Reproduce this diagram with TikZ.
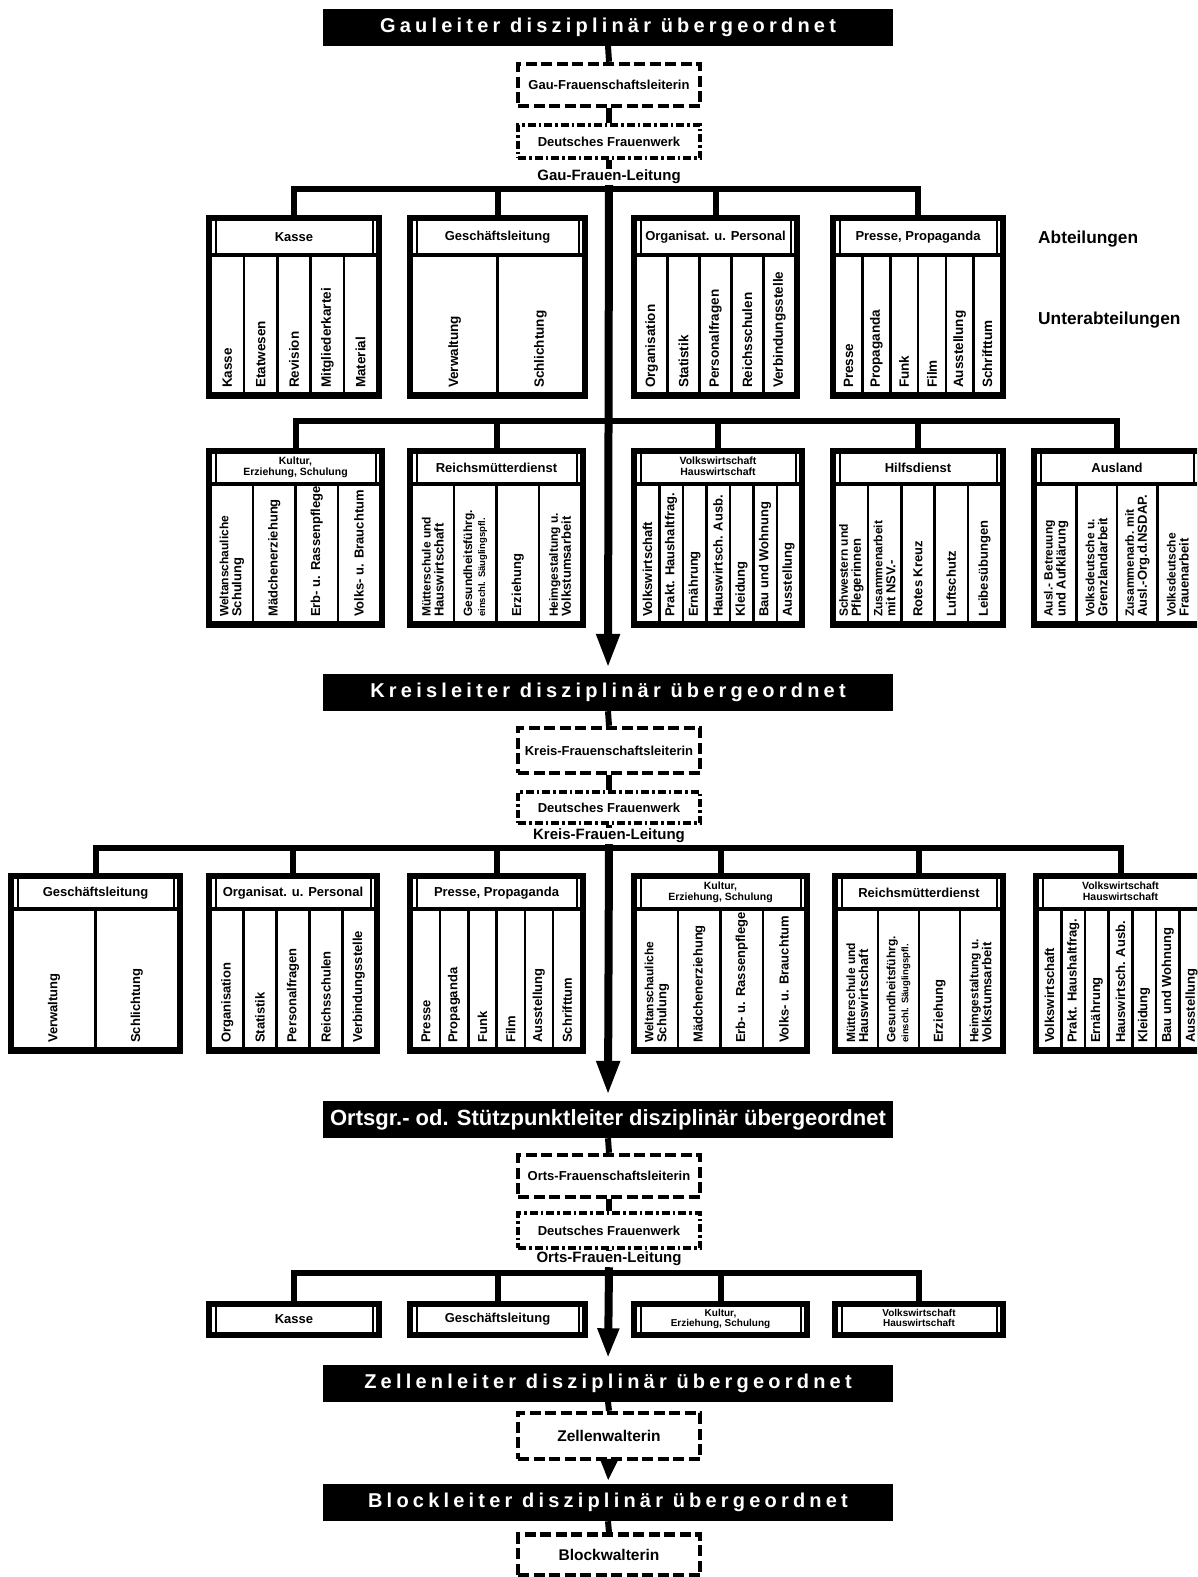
\documentclass[tikz,border=0pt]{standalone}
\usepackage{fontspec}
\setmainfont{Liberation Sans}
\newfontfamily\spacedfont[LetterSpace=21]{Liberation Sans}
\usetikzlibrary{arrows.meta}
\newcommand\fs[1]{\fontsize{#1}{#1}\selectfont}
\newcommand\twol{\fontsize{12}{11.5}\selectfont}
\newcommand\hl[3]{{\fontsize{#1}{#1}\selectfont\begin{tabular}{@{}c@{}}#2\\#3\end{tabular}}}
\def\colfont{\bfseries\fs{13.5}}
% box with header and columns
\newcommand\orgbox[9]{%
  \pgfmathsetmacro\xa{#2}%
  \pgfmathsetmacro\ya{#3}%
  \pgfmathsetmacro\xb{#4}%
  \pgfmathsetmacro\yb{#5}%
  \pgfmathsetmacro\hb{#3+6+#6}%
  \pgfmathsetmacro\bw{#4-#2}%
  \pgfmathsetmacro\bh{#5-#3}%
  \fill (\xa,\ya) rectangle (\xb,\yb);
  \node[inner sep=0pt,minimum width=\bw pt,minimum height=\bh pt,anchor=north west] (#1) at (\xa,\ya) {};
  \fill[white] (\xa+6,\ya+6) rectangle (\xb-6,\hb);
  \fill (\xa+8.5,\ya+6) rectangle (\xa+10.5,\hb);
  \fill (\xb-10.5,\ya+6) rectangle (\xb-8.5,\hb);
  \node[hdrtxt] (#1-h) at ({(\xa+\xb)/2},{(\ya+6+\hb)/2}) {#7};
  \pgfmathsetmacro\ct{\hb+4}%
  \pgfmathsetmacro\cb{#5-7}%
  \pgfmathsetmacro\cw{(#4-#2-12-(#8-1)*2.5)/#8}%
  \foreach \lbl [count=\i] in {#9} {%
    \pgfmathsetmacro\cx{#2+6+(\i-1)*(\cw+2.5)}%
    \fill[white] (\cx,\ct) rectangle (\cx+\cw,\cb);
    \node[collbl] at (\cx+\cw/2,\cb-4) {\lbl};
  }%
}
% box with header only
\newcommand\smallbox[6]{%
  \pgfmathsetmacro\bw{#4-#2}%
  \pgfmathsetmacro\bh{#5-#3}%
  \fill (#2,#3) rectangle (#4,#5);
  \node[inner sep=0pt,minimum width=\bw pt,minimum height=\bh pt,anchor=north west] (#1) at (#2,#3) {};
  \fill[white] (#2+6,#3+6) rectangle (#4-6,#5-6);
  \fill (#2+8.5,#3+6) rectangle (#2+10.5,#5-6);
  \fill (#4-10.5,#3+6) rectangle (#4-8.5,#5-6);
  \node[hdrtxt] (#1-h) at ({(#2+#4)/2},{(#3+#5)/2}) {#6};
}
\begin{document}
\begin{tikzpicture}[x=1pt,y=-1pt,
  titlebox/.style={fill=black,text=white,inner sep=0pt,minimum width=570pt,minimum height=37pt},
  titlefont/.style={font=\spacedfont\bfseries\fs{20}},
  dashbox/.style={draw,line width=4.5pt,dash pattern=on 11pt off 4.5pt,inner sep=0pt,minimum width=182pt,font=\bfseries\fs{13}},
  dotbox/.style={draw,line width=4pt,dash pattern=on 8pt off 3pt on 2.5pt off 3pt,inner sep=0pt,minimum width=182pt,minimum height=33pt,font=\bfseries\fs{13}},
  leitung/.style={inner sep=1pt,font=\bfseries\fs{15}},
  hdrtxt/.style={inner sep=0pt,align=center,font=\bfseries\fs{13}},
  collbl/.style={rotate=90,anchor=west,inner sep=0pt,align=left,font=\colfont},
  conn/.style={line width=6pt},
  bus/.style={line width=6pt,line join=miter},
  spine/.style={line width=8pt,-{Triangle[width=22pt,length=34pt]},shorten >=6pt},
  sidelbl/.style={anchor=west,inner sep=0pt,font=\bfseries\fs{17.3}}
]
\useasboundingbox (0,0) rectangle (1197,1577);
\clip (0,0) rectangle (1197,1577);
\fill[white] (0,0) rectangle (1197,1577);

% ---------- Gau level ----------
\node[titlebox,titlefont] (gau) at (608,27) {Gauleiter disziplinär übergeordnet};
\node[dashbox,minimum height=42pt] (gfs) at (609,85) {Gau-Frauenschaftsleiterin};
\node[dotbox] (dfw1) at (609,141.5) {Deutsches Frauenwerk};
\node[leitung] (gfl) at (609,177) {Gau-Frauen-Leitung};
\coordinate (j1) at (609,189);
\coordinate (j2) at (609,421);

% row 1
\def\colfont{\bfseries\fs{13.5}}
\orgbox{a1}{206}{215}{382}{399}{32}{Kasse}{5}{Kasse,Etatwesen,Revision,Mitgliederkartei,Material}
\orgbox{a2}{407}{215}{588}{399}{32}{Geschäftsleitung}{2}{Verwaltung,Schlichtung}
\orgbox{a3}{631}{215}{800}{399}{32}{Organisat. u. Personal}{5}{Organisation,Statistik,Personalfragen,Reichsschulen,Verbindungsstelle}
\orgbox{a4}{830}{215}{1006}{399}{32}{Presse, Propaganda}{6}{Presse,Propaganda,Funk,Film,Ausstellung,Schrifttum}

\node[sidelbl] (abt) at (1038,239) {Abteilungen};
\node[sidelbl] (uabt) at (1038,320) {Unterabteilungen};

% row 2
\def\colfont{\bfseries\fs{13}}
\orgbox{b1}{206}{448}{385}{628}{28}{\hl{10.5}{Kultur,}{Erziehung, Schulung}}{4}{{\twol Weltanschauliche\\Schulung},Mädchenerziehung,Erb- u. Rassenpflege,Volks- u. Brauchtum}
\orgbox{b2}{407}{448}{586}{628}{28}{Reichsmütterdienst}{4}{{\twol Mütterschule und\\Hauswirtschaft},{\twol Gesundheitsführg.\\{\fontsize{9.5}{10}\selectfont einschl. Säuglingspfl.}},Erziehung,{\twol Heimgestaltung u.\\Volkstumsarbeit}}
\orgbox{b3}{631}{448}{805}{628}{28}{\hl{10.5}{Volkswirtschaft}{Hauswirtschaft}}{7}{Volkswirtschaft,Prakt. Haushaltfrag.,Ernährung,Hauswirtsch. Ausb.,Kleidung,Bau und Wohnung,Ausstellung}
\orgbox{b4}{830}{448}{1006}{628}{28}{Hilfsdienst}{5}{{\twol Schwestern und\\Pflegerinnen},{\twol Zusammenarbeit\\mit NSV.-},Rotes Kreuz,Luftschutz,Leibesübungen}
\orgbox{b5}{1031}{448}{1203}{628}{28}{Ausland}{4}{{\twol Ausl.- Betreuung\\und Aufklärung},{\twol Volksdeutsche u.\\Grenzlandarbeit},{\twol Zusammenarb. mit\\Ausl.-Org.d.NSDAP.},{\twol Volksdeutsche\\Frauenarbeit}}

% ---------- Kreis level ----------
\node[titlebox,titlefont] (kreis) at (608,692.5) {Kreisleiter disziplinär übergeordnet};
\node[dashbox,minimum height=45pt] (kfs) at (609,750.5) {Kreis-Frauenschaftsleiterin};
\node[dotbox,minimum height=31pt] (dfw2) at (609,807.5) {Deutsches Frauenwerk};
\node[leitung] (kfl) at (609,836) {Kreis-Frauen-Leitung};
\coordinate (j3) at (609,848);

% row 3
\def\colfont{\bfseries\fs{13}}
\orgbox{c1}{8}{873}{183}{1054}{28}{Geschäftsleitung}{2}{Verwaltung,Schlichtung}
\orgbox{c2}{206}{873}{380}{1054}{28}{Organisat. u. Personal}{5}{Organisation,Statistik,Personalfragen,Reichsschulen,Verbindungsstelle}
\orgbox{c3}{407}{873}{586}{1054}{28}{Presse, Propaganda}{6}{Presse,Propaganda,Funk,Film,Ausstellung,Schrifttum}
\orgbox{c4}{631}{873}{810}{1054}{28}{\hl{10.5}{Kultur,}{Erziehung, Schulung}}{4}{{\twol Weltanschauliche\\Schulung},Mädchenerziehung,Erb- u. Rassenpflege,Volks- u. Brauchtum}
\orgbox{c5}{832}{873}{1006}{1054}{28}{Reichsmütterdienst}{4}{{\twol Mütterschule und\\Hauswirtschaft},{\twol Gesundheitsführg.\\{\fontsize{9.5}{10}\selectfont einschl. Säuglingspfl.}},Erziehung,{\twol Heimgestaltung u.\\Volkstumsarbeit}}
\orgbox{c6}{1033}{873}{1208}{1054}{28}{\hl{10.5}{Volkswirtschaft}{Hauswirtschaft}}{7}{Volkswirtschaft,Prakt. Haushaltfrag.,Ernährung,Hauswirtsch. Ausb.,Kleidung,Bau und Wohnung,Ausstellung}

% ---------- Orts level ----------
\node[titlebox,font=\bfseries\fs{22}] (orts) at (608,1119.5) {Ortsgr.- od. Stützpunktleiter disziplinär übergeordnet};
\node[dashbox,minimum height=42pt] (ofs) at (609,1176) {Orts-Frauenschaftsleiterin};
\node[dotbox,minimum height=35pt] (dfw3) at (609,1230.5) {Deutsches Frauenwerk};
\node[leitung] (ofl) at (609,1259) {Orts-Frauen-Leitung};
\coordinate (j4) at (609,1273);

% row 4
\smallbox{d1}{206}{1301}{382}{1338}{Kasse}
\smallbox{d2}{407}{1301}{588}{1338}{Geschäftsleitung}
\smallbox{d3}{631}{1301}{810}{1338}{\hl{10}{Kultur,}{Erziehung, Schulung}}
\smallbox{d4}{832}{1301}{1006}{1338}{\hl{10}{Volkswirtschaft}{Hauswirtschaft}}

% ---------- Zellen / Block ----------
\node[titlebox,titlefont] (zelle) at (608,1383) {Zellenleiter disziplinär übergeordnet};
\node[dashbox,minimum height=46pt,font=\bfseries\fs{15.5}] (zw) at (609,1436) {Zellenwalterin};
\node[titlebox,titlefont] (block) at (608,1502.5) {Blockleiter disziplinär übergeordnet};
\node[dashbox,minimum height=41pt,font=\bfseries\fs{15.5}] (bw) at (609,1555) {Blockwalterin};

% ---------- connectors ----------
\draw[conn] (gau.south) -- (gfs.north);
\draw[conn] (gfs.south) -- (dfw1.north);
\draw[conn] (dfw1.south) -- (gfl.north);
\foreach \b in {a1,a2,a3,a4} \draw[bus] (j1) -| (\b.north);
\foreach \b in {b1,b2,b3,b4,b5} \draw[bus] (j2) -| (\b.north);
\draw[spine] (gfl.south) -- (kreis.north);

\draw[conn] (kreis.south) -- (kfs.north);
\draw[conn] (kfs.south) -- (dfw2.north);
\draw[conn] (dfw2.south) -- (kfl.north);
\foreach \b in {c1,c2,c3,c4,c5,c6} \draw[bus] (j3) -| (\b.north);
\draw[spine] (kfl.south) -- (orts.north);

\draw[conn] (orts.south) -- (ofs.north);
\draw[conn] (ofs.south) -- (dfw3.north);
\draw[conn] (dfw3.south) -- (ofl.north);
\foreach \b in {d1,d2,d3,d4} \draw[bus] (j4) -| (\b.north);
\draw[spine,-{Triangle[width=20pt,length=30pt]}] (ofl.south) -- (zelle.north);

\draw[conn] (zelle.south) -- (zw.north);
\draw[conn,-{Triangle[width=17pt,length=22pt]},shorten >=3pt] (zw.south) -- (block.north);
\draw[conn] (block.south) -- (bw.north);
\end{tikzpicture}
\end{document}
